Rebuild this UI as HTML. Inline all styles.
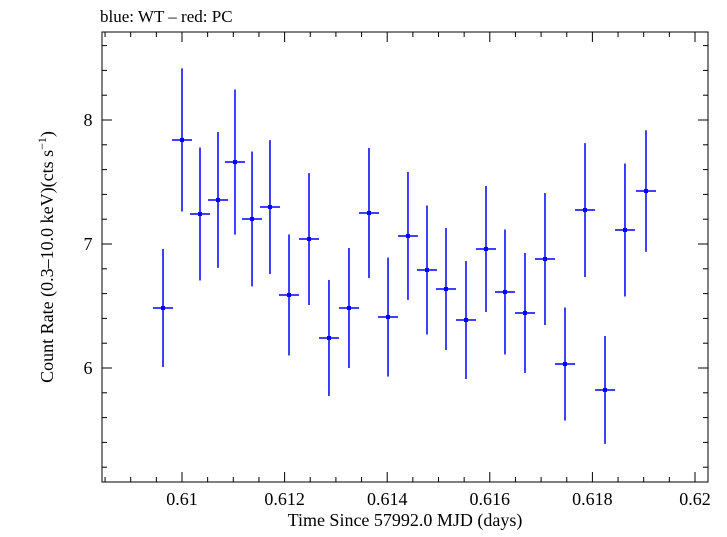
<!DOCTYPE html>
<html><head><meta charset="utf-8"><style>
body{margin:0;background:#fff;}
svg text{font-family:"Liberation Serif",serif;fill:#000;}
</style></head><body>
<svg id="chart" width="727" height="532" xmlns="http://www.w3.org/2000/svg">
<text x="100" y="22" font-size="17">blue: WT – red: PC</text>
<rect x="102" y="32" width="606" height="450" fill="none" stroke="#000" stroke-width="1"/>
<g id="ticks"></g>
<g id="marks"></g>
<text x="405" y="526" font-size="18" text-anchor="middle">Time Since 57992.0 MJD (days)</text>
<text transform="translate(53,257) rotate(-90)" font-size="18" text-anchor="middle">Count Rate (0.3–10.0 keV)(cts s<tspan dy="-7" font-size="12">−1</tspan><tspan dy="7">)</tspan></text>
</svg>
<script>
const times=[0.609630,0.610000,0.610351,0.610702,0.611033,0.611365,0.611715,0.612086,0.612476,0.612865,0.613255,0.613645,0.614016,0.614405,0.614776,0.615146,0.615536,0.615926,0.616296,0.616686,0.617076,0.617466,0.617856,0.618246,0.618635,0.619045];
const rates=[6.484,7.839,7.242,7.355,7.661,7.202,7.298,6.589,7.040,6.242,6.484,7.250,6.411,7.065,6.790,6.637,6.387,6.960,6.613,6.444,6.879,6.032,7.274,5.823,7.113,7.427];
const errs=[0.476,0.577,0.536,0.548,0.585,0.544,0.540,0.488,0.532,0.468,0.484,0.524,0.480,0.516,0.52,0.492,0.476,0.508,0.504,0.484,0.532,0.456,0.540,0.435,0.536,0.49];
const halfBin=0.000195;
const xTicks=[0.61,0.612,0.614,0.616,0.618,0.62];
const xTickLabels=["0.61","0.612","0.614","0.616","0.618","0.62"];
const yTicks=[6,7,8];
const yTickLabels=["6","7","8"];
const NS="http://www.w3.org/2000/svg";
const X0=102,X1=708,Y0=32,Y1=482;
function xs(v){return 182+(v-0.61)*51300;}
function ys(v){return 120-(v-8)*124;}
function mk(t,a,p){const e=document.createElementNS(NS,t);for(const k in a)e.setAttribute(k,a[k]);p.appendChild(e);return e;}
const tg=document.getElementById('ticks');
for(let v=0.6085;v<=0.6203;v+=0.0005){
 const x=xs(v);if(x<X0||x>X1)continue;
 const major=xTicks.some(t=>Math.abs(t-v)<1e-7);const L=major?10:5;
 const l1=mk('line',{x1:x,x2:x,y1:Y1,y2:Y1-L,stroke:'#000'},tg);
 
 
 const l2=mk('line',{x1:x,x2:x,y1:Y0,y2:Y0+L,stroke:'#000'},tg);
 
 
}
xTicks.forEach((v,i)=>{const t=mk('text',{x:xs(v),y:505,'font-size':18,'text-anchor':'middle'},tg);t.textContent=xTickLabels[i];
 
 });
for(let v=5.2;v<=8.7;v+=0.2){
 const y=ys(v);if(y<Y0||y>Y1)continue;
 const major=yTicks.some(t=>Math.abs(t-v)<1e-6);const L=major?10:5;
 const l1=mk('line',{x1:X0,x2:X0+L,y1:y,y2:y,stroke:'#000'},tg);
 
 
 const l2=mk('line',{x1:X1,x2:X1-L,y1:y,y2:y,stroke:'#000'},tg);
 
 
}
yTicks.forEach((v,i)=>{const t=mk('text',{x:88,y:ys(v)+6,'font-size':18,'text-anchor':'middle'},tg);t.textContent=yTickLabels[i];
 
 });
const mg=document.getElementById('marks');
times.forEach((t,i)=>{
 const g=mk('g',{},mg);
 
 
 const x=xs(t),y=ys(rates[i]);
 mk('line',{x1:x,x2:x,y1:ys(rates[i]+errs[i]),y2:ys(rates[i]-errs[i]),stroke:'#00f','stroke-width':1.5},g);
 mk('line',{x1:xs(t-halfBin),x2:xs(t+halfBin),y1:y,y2:y,stroke:'#00f','stroke-width':1.5},g);
 mk('rect',{x:x-2,y:y-2,width:4,height:4,fill:'#00f'},g);
});
</script>
</body></html>
